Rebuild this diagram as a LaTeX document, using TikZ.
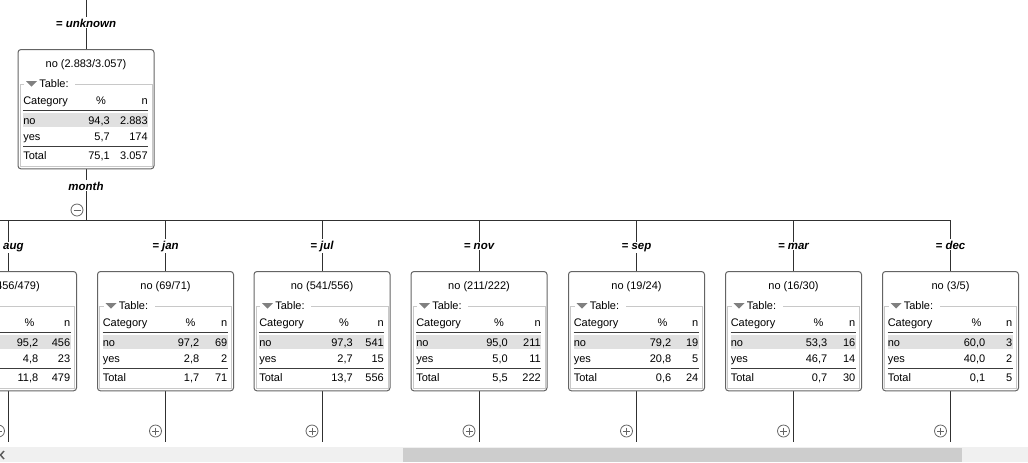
\documentclass[tikz,border=0pt]{standalone}
\usepackage{fontspec}
\setmainfont{Liberation Sans}
\definecolor{boxline}{HTML}{646464}
\definecolor{frameline}{HTML}{C8C8C8}
\definecolor{band}{HTML}{E0E0E0}
\definecolor{rulec}{HTML}{3C3C3C}
\definecolor{tri}{HTML}{808080}
\definecolor{sbtrack}{HTML}{F0F0F0}
\definecolor{sbthumb}{HTML}{CDCDCD}
\definecolor{edgec}{HTML}{303030}
\tikzset{
  kbox/.style={draw=boxline, line width=0.75pt, rounded corners=2.25pt, fill=white,
    minimum width=102pt, minimum height=89.5pt, inner sep=0pt, anchor=north},
  edgeline/.style={draw=edgec, line width=0.75pt},
  lbl/.style={font=\fontsize{8.6}{10}\selectfont\bfseries\itshape, fill=white, inner sep=1pt, anchor=base},
  txt/.style={font=\fontsize{8.25}{10}\selectfont, inner sep=0pt},
  btn/.style={draw=boxline, line width=0.6pt, fill=white},
}
\def\ktop{271}
% #1 name, #2 cx, #3 pct column offset, #4 noP, #5 noN, #6 yesP, #7 yesN, #8 totP, #9 totN
\newcommand{\knode}[9]{%
  \pgfmathsetmacro\L{#2-68}%
  \pgfmathsetmacro\R{#2+68}%
  \pgfmathsetmacro\T{\ktop}%
  \node[kbox] (#1) at (#2,\T) {};
  \node[txt, anchor=base] (#1-title) at (#2,\T+18) {no (#5/#9)};
  \draw[frameline, line width=0.75pt] (\L+6,\T+35) -- (\L+2,\T+35) -- (\L+2,\T+117)
     -- (\R-2,\T+117) -- (\R-2,\T+35) -- (\L+57,\T+35);
  \fill[tri] (\L+8,\T+32) -- (\L+19,\T+32) -- (\L+13.5,\T+37.5) -- cycle;
  \node[txt, anchor=base west] (#1-leg) at (\L+21,\T+38) {Table:};
  \node[txt, anchor=base west] (#1-hc) at (\L+5,\T+55) {Category};
  \node[txt, anchor=base] (#1-hp) at (\L+#3-9,\T+55) {\%};
  \node[txt, anchor=base east] (#1-hn) at (\L+130,\T+55) {n};
  \draw[rulec, line width=0.75pt] (\L+5,\T+61.5) -- (\L+130,\T+61.5);
  \fill[band] (\L+5,\T+64) rectangle (\L+130,\T+78);
  \node[txt, anchor=base west] (#1-r1) at (\L+5,\T+75) {no};
  \node[txt, anchor=base east] (#1-r1p) at (\L+#3,\T+75) {#4};
  \node[txt, anchor=base east] (#1-r1n) at (\L+130,\T+75) {#5};
  \node[txt, anchor=base west] (#1-r2) at (\L+5,\T+91) {yes};
  \node[txt, anchor=base east] (#1-r2p) at (\L+#3,\T+91) {#6};
  \node[txt, anchor=base east] (#1-r2n) at (\L+130,\T+91) {#7};
  \draw[rulec, line width=0.75pt] (\L+5,\T+97.5) -- (\L+130,\T+97.5);
  \node[txt, anchor=base west] (#1-r3) at (\L+5,\T+110) {Total};
  \node[txt, anchor=base east] (#1-r3p) at (\L+#3,\T+110) {#8};
  \node[txt, anchor=base east] (#1-r3n) at (\L+130,\T+110) {#9};
}
\begin{document}
\begin{tikzpicture}[x=0.75pt, y=-0.75pt]
\useasboundingbox (0,0) rectangle (1028,462);
\clip (0,0) rectangle (1028,462);
\fill[white] (0,0) rectangle (1028,462);

% root
\def\ktop{49}
\coordinate (top0) at (86,0);
\coordinate (split) at (86,220);
\draw[edgeline] (top0) -- (86,49);
\draw[edgeline] (86,169) -- (split);
\knode{root}{86}{92}{94,3}{2.883}{5,7}{174}{75,1}{3.057}
\node[lbl] (lroot) at (86,27) {= unknown};
\node[lbl] (lmonth) at (86,190) {month};
\draw[btn] (77,210) circle[radius=4.5pt];
\draw[boxline, line width=0.6pt] (73.5,210) -- (80.5,210);

% bus
\coordinate (busL) at (0,220);
\coordinate (busR) at (950.5,220);
\draw[edgeline] (busL) -- (busR);

% children
\def\ktop{271}
\foreach \nm/\cx in {aug/8.5,jan/165.5,jul/322,nov/479,sep/636.5,mar/793.5,dec/950.5}{
  \coordinate (b-\nm) at (\cx,220);
  \coordinate (e-\nm) at (\cx,442);
  \draw[edgeline] (b-\nm) -- (\cx,271);
  \draw[edgeline] (\cx,390) -- (e-\nm);
  \node[lbl] (l-\nm) at (\cx,249) {= \nm};
  \draw[btn] (\cx-10,431) circle[radius=4.5pt];
  \draw[boxline, line width=0.6pt] (\cx-13.5,431) -- (\cx-6.5,431) (\cx-10,427.5) -- (\cx-10,434.5);
}
\knode{aug}{8.5}{98}{95,2}{456}{4,8}{23}{11,8}{479}
\knode{jan}{165.5}{102}{97,2}{69}{2,8}{2}{1,7}{71}
\knode{jul}{322}{99}{97,3}{541}{2,7}{15}{13,7}{556}
\knode{nov}{479}{97}{95,0}{211}{5,0}{11}{5,5}{222}
\knode{sep}{636.5}{103}{79,2}{19}{20,8}{5}{0,6}{24}
\knode{mar}{793.5}{102}{53,3}{16}{46,7}{14}{0,7}{30}
\knode{dec}{950.5}{103}{60,0}{3}{40,0}{2}{0,1}{5}

% scrollbar
\fill[sbtrack] (0,447) rectangle (1028,462);
\fill[sbthumb] (403,448) rectangle (962,462);
\draw[edgec!80, line width=1.1pt] (4,451) -- (0.5,455) -- (4,459);
\end{tikzpicture}
\end{document}
